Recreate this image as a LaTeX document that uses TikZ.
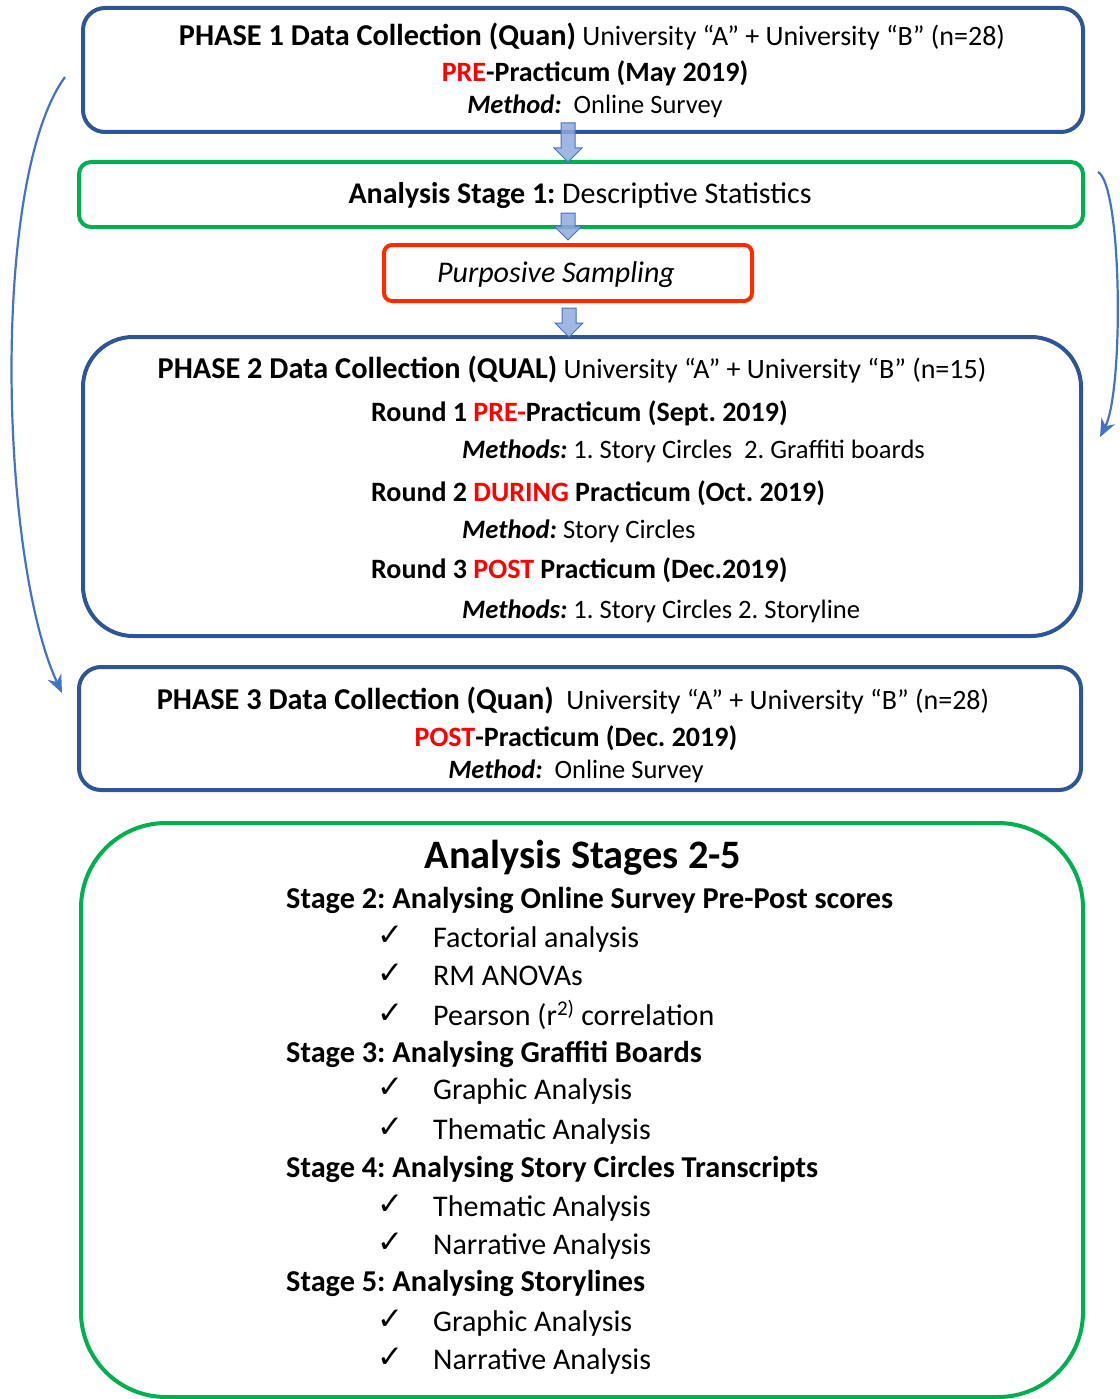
\documentclass[tikz,border=0pt]{standalone}
\usepackage{fontspec}
\setmainfont{Carlito}
\newfontfamily\symfont{DejaVu Sans}
\usetikzlibrary{arrows.meta}
\definecolor{dblue}{HTML}{2F5597}
\definecolor{mgreen}{HTML}{00B050}
\definecolor{bred}{HTML}{FF2A00}
\definecolor{tred}{HTML}{FF0000}
\definecolor{lblue}{HTML}{4472C4}
\definecolor{fblue}{HTML}{8FAADC}
\frenchspacing
\newcommand{\rd}[1]{\textcolor{tred}{#1}}
\newcommand{\bigb}[1]{{\fontsize{30.3}{36}\selectfont\bfseries #1}}
\newcommand{\blockarr}[3]{\draw[barrowstyle] (#1-7,#2) -- (#1+7,#2) -- (#1+7,#3-14) -- (#1+14,#3-14) -- (#1,#3) -- (#1-14,#3-14) -- (#1-7,#3-14) -- cycle;}
\newcommand{\ck}{{\symfont\fontsize{31}{36}\selectfont ✓}}
\begin{document}
\begin{tikzpicture}[x=1pt,y=-1pt,
  frame/.style={draw, line width=4pt, fill=none, inner sep=0pt},
  bluebox/.style={frame, draw=dblue},
  greenbox/.style={frame, draw=mgreen},
  redbox/.style={frame, draw=bred},
  txt/.style={inner sep=0pt, anchor=base, font=\fontsize{28}{34}\selectfont},
  txtl/.style={txt, anchor=base west},
  mtxt/.style={inner sep=0pt, anchor=base, font=\fontsize{26.5}{32}\selectfont},
  mtxtl/.style={mtxt, anchor=base west, font=\fontsize{26.6}{32}\selectfont},
  ltxt/.style={inner sep=0pt, anchor=base, font=\fontsize{30}{36}\selectfont},
  ltxtl/.style={ltxt, anchor=base west},
  stxt/.style={inner sep=0pt, anchor=base west, font=\fontsize{30.3}{36}\selectfont\bfseries},
  title/.style={inner sep=0pt, anchor=base, font=\fontsize{40.4}{48}\selectfont\bfseries},
  barrowstyle/.style={draw=lblue, line width=1pt, fill=fblue, fill opacity=0.85},
  curvearrow/.style={draw=lblue, line width=2.2pt, -{Stealth[length=18pt,width=15pt]}}
]
\useasboundingbox (0,0) rectangle (1119,1399);
% boxes
\node[bluebox, minimum width=1000pt, minimum height=124pt, rounded corners=22pt] (b1) at (583,70) {};
\node[greenbox, minimum width=1004pt, minimum height=65pt, rounded corners=12pt] (b2) at (581,194.5) {};
\node[redbox, minimum width=368pt, minimum height=56pt, rounded corners=8pt] (b3) at (568,273) {};
\node[bluebox, minimum width=998pt, minimum height=299pt, rounded corners=50pt] (b4) at (582,486.5) {};
\node[bluebox, minimum width=1002pt, minimum height=123pt, rounded corners=22pt] (b5) at (580,728.5) {};
\node[greenbox, minimum width=1002pt, minimum height=574pt, rounded corners=85pt] (b6) at (582,1110) {};
% block arrows
\blockarr{568}{123}{162}
\blockarr{568}{213}{240}
\blockarr{569}{308}{337}
% curved arrows
\coordinate (la) at (65,77);
\coordinate (lb) at (62,693);
\draw[curvearrow] (la) .. controls (-10,180) and (0,560) .. (lb);
\coordinate (ra) at (1098,172);
\coordinate (rb) at (1100,437);
\draw[curvearrow] (ra) .. controls (1122,185) and (1124,390) .. (rb);
% box 1
\node[txt] (t11) at (592,46) {\bigb{PHASE 1 Data Collection (Quan)} University “A” + University “B” (n=28)};
\node[txt] (t12) at (595,82) {\textbf{\rd{PRE}-Practicum (May 2019)}};
\node[mtxt] (t13) at (595,114) {\textbf{\textit{Method:}}\ \ Online Survey};
% box 2
\node[ltxt] (t21) at (580,204) {\textbf{Analysis Stage 1:} Descriptive Statistics};
% box 3
\node[ltxt] (t31) at (556,282) {\textit{Purposive Sampling}};
% box 4
\node[txt] (t41) at (572,378) {\bigb{PHASE 2 Data Collection (QUAL)} University “A” + University “B” (n=15)};
\node[txtl] (t42) at (371,421) {\textbf{Round 1 \rd{PRE-}Practicum (Sept. 2019)}};
\node[mtxtl] (t43) at (462,458) {\textbf{\textit{Methods:}} 1. Story Circles\ \ 2. Graffiti boards};
\node[txtl] (t44) at (371,501) {\textbf{Round 2 \rd{DURING} Practicum (Oct. 2019)}};
\node[mtxtl] (t45) at (462,538) {\textbf{\textit{Method:}} Story Circles};
\node[txtl] (t46) at (371,578) {\textbf{Round 3 \rd{POST} Practicum (Dec.2019)}};
\node[mtxtl] (t47) at (462,618) {\textbf{\textit{Methods:}} 1. Story Circles 2. Storyline};
% box 5
\node[txt] (t51) at (573,709) {\bigb{PHASE 3 Data Collection (Quan)}\ \ University “A” + University “B” (n=28)};
\node[txt] (t52) at (576,746) {\textbf{\rd{POST}-Practicum (Dec. 2019)}};
\node[mtxt] (t53) at (576,778) {\textbf{\textit{Method:}}\ \ Online Survey};
% box 6
\node[title] (t60) at (583,868) {Analysis Stages 2-5};
\node[stxt] (s2) at (286,908) {Stage 2: Analysing Online Survey Pre-Post scores};
\node[ltxtl] (c21) at (377,945) {\ck};
\node[ltxtl] (i21) at (433,947) {Factorial analysis};
\node[ltxtl] (c22) at (377,983) {\ck};
\node[ltxtl] (i22) at (433,985) {RM ANOVAs};
\node[ltxtl] (c23) at (377,1023) {\ck};
\node[ltxtl] (i23) at (433,1025) {Pearson (r\textsuperscript{2)} correlation};
\node[stxt] (s3) at (286,1062) {Stage 3: Analysing Graffiti Boards};
\node[ltxtl] (c31) at (377,1097) {\ck};
\node[ltxtl] (i31) at (433,1099) {Graphic Analysis};
\node[ltxtl] (c32) at (377,1137) {\ck};
\node[ltxtl] (i32) at (433,1139) {Thematic Analysis};
\node[stxt] (s4) at (286,1177) {Stage 4: Analysing Story Circles Transcripts};
\node[ltxtl] (c41) at (377,1214) {\ck};
\node[ltxtl] (i41) at (433,1216) {Thematic Analysis};
\node[ltxtl] (c42) at (377,1252) {\ck};
\node[ltxtl] (i42) at (433,1254) {Narrative Analysis};
\node[stxt] (s5) at (286,1291) {Stage 5: Analysing Storylines};
\node[ltxtl] (c51) at (377,1329) {\ck};
\node[ltxtl] (i51) at (433,1331) {Graphic Analysis};
\node[ltxtl] (c52) at (377,1367) {\ck};
\node[ltxtl] (i52) at (433,1369) {Narrative Analysis};
\end{tikzpicture}
\end{document}
